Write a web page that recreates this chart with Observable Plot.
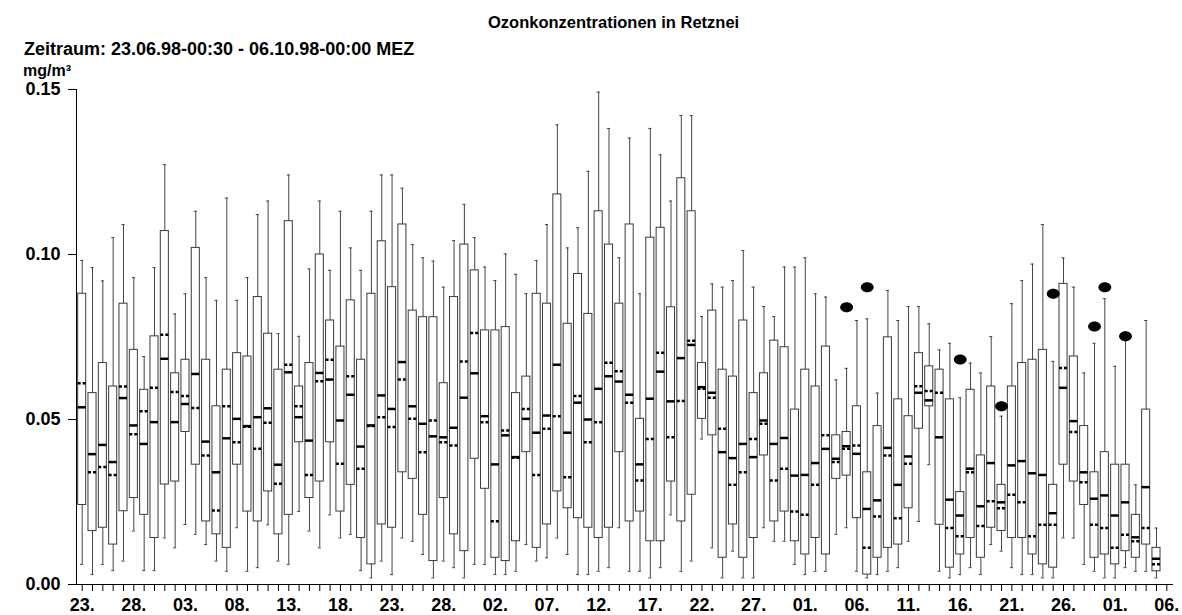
<!DOCTYPE html>
<html>
<head>
<meta charset="utf-8">
<script src="https://cdn.jsdelivr.net/npm/d3@7"></script>
<script src="https://cdn.jsdelivr.net/npm/@observablehq/plot@0.6"></script>
<style>
  html, body { margin: 0; padding: 0; background: #fff; overflow: hidden; }
  #wrap { position: relative; width: 1182px; height: 615px; font-family: "Liberation Sans", Arial, sans-serif; font-weight: bold; color: #000; }
  #wrap svg { position: absolute; left: 0; top: 0; }
  .lbl { position: absolute; line-height: 1; white-space: nowrap; }
</style>
</head>
<body>
<div id="wrap">
  <div id="chart"></div>
  <div class="lbl" style="left:488px; top:14px; font-size:16.5px;">Ozonkonzentrationen in Retznei</div>
  <div class="lbl" style="left:24px; top:40px; font-size:18px;">Zeitraum: 23.06.98-00:30 - 06.10.98-00:00 MEZ</div>
  <div class="lbl" style="left:23px; top:63px; font-size:16px;">mg/m³</div>
</div>
<script>
// Daily statistics, 23.06.98 (day 0) … 05.10.98 (day 104); axis runs to 06.10.98 (day 105)
const whiskerHigh = [0.0982,0.0960,0.0920,0.1051,0.1091,0.0930,0.0691,0.0960,0.1272,0.0820,0.0881,0.1131,0.0930,0.0861,0.1171,0.0861,0.0930,0.1121,0.1162,0.0760,0.1241,0.0752,0.0956,0.1162,0.0952,0.1131,0.1020,0.0952,0.1131,0.1241,0.1241,0.1201,0.1030,0.0990,0.0980,0.0901,0.1042,0.1152,0.1051,0.0962,0.0921,0.1002,0.0940,0.0881,0.0982,0.1091,0.1393,0.1020,0.1081,0.1252,0.1492,0.1382,0.0990,0.1353,0.0881,0.1382,0.1302,0.1162,0.1421,0.1421,0.0812,0.0911,0.0901,0.0921,0.1012,0.0901,0.0842,0.0812,0.0962,0.0962,0.0990,0.0881,0.0871,0.0620,0.0655,0.0800,0.0805,0.0580,0.0891,0.0800,0.0842,0.0842,0.0790,0.0711,0.0731,0.0566,0.0671,0.0641,0.0751,0.0510,0.0851,0.0921,0.0971,0.1091,0.0676,0.0990,0.0901,0.0641,0.0731,0.0866,0.0661,0.0765,0.0302,0.0800,0.0171];
const upperQuartile = [0.0881,0.0580,0.0671,0.0600,0.0851,0.0711,0.0590,0.0752,0.1071,0.0640,0.0681,0.1020,0.0681,0.0540,0.0651,0.0701,0.0691,0.0871,0.0760,0.0651,0.1101,0.0600,0.0671,0.1000,0.0800,0.0721,0.0861,0.0681,0.0881,0.1040,0.0901,0.1091,0.0830,0.0810,0.0810,0.0610,0.0871,0.1030,0.0952,0.0770,0.0770,0.0780,0.0580,0.0630,0.0881,0.0851,0.1182,0.0790,0.0941,0.0820,0.1131,0.1030,0.0851,0.1091,0.0502,0.1051,0.1081,0.0840,0.1231,0.1131,0.0671,0.0830,0.0651,0.0630,0.0800,0.0580,0.0640,0.0739,0.0719,0.0530,0.0651,0.0600,0.0721,0.0452,0.0462,0.0540,0.0340,0.0480,0.0749,0.0561,0.0510,0.0701,0.0661,0.0651,0.0561,0.0280,0.0590,0.0391,0.0600,0.0302,0.0600,0.0671,0.0681,0.0711,0.0302,0.0911,0.0691,0.0480,0.0340,0.0401,0.0363,0.0363,0.0211,0.0530,0.0111];
const median = [0.0537,0.0395,0.0423,0.0371,0.0565,0.0482,0.0426,0.0492,0.0684,0.0492,0.0547,0.0638,0.0433,0.0340,0.0443,0.0502,0.0480,0.0507,0.0534,0.0363,0.0643,0.0507,0.0436,0.0641,0.0621,0.0497,0.0575,0.0418,0.0482,0.0573,0.0532,0.0674,0.0540,0.0487,0.0449,0.0446,0.0475,0.0566,0.0640,0.0510,0.0364,0.0452,0.0386,0.0502,0.0460,0.0512,0.0666,0.0460,0.0551,0.0500,0.0593,0.0631,0.0615,0.0575,0.0364,0.0563,0.0645,0.0555,0.0686,0.0726,0.0598,0.0581,0.0401,0.0383,0.0426,0.0386,0.0497,0.0426,0.0444,0.0330,0.0332,0.0368,0.0411,0.0381,0.0419,0.0396,0.0229,0.0255,0.0414,0.0302,0.0388,0.0581,0.0558,0.0446,0.0257,0.0209,0.0351,0.0237,0.0368,0.0249,0.0361,0.0374,0.0337,0.0332,0.0216,0.0596,0.0495,0.0340,0.0260,0.0270,0.0209,0.0249,0.0143,0.0295,0.0078];
const mean = [0.0610,0.0340,0.0356,0.0332,0.0600,0.0455,0.0525,0.0596,0.0757,0.0583,0.0571,0.0535,0.0391,0.0224,0.0540,0.0431,0.0478,0.0411,0.0490,0.0305,0.0666,0.0540,0.0332,0.0616,0.0681,0.0366,0.0631,0.0351,0.0480,0.0507,0.0477,0.0621,0.0502,0.0401,0.0497,0.0431,0.0421,0.0676,0.0762,0.0492,0.0192,0.0467,0.0384,0.0532,0.0332,0.0472,0.0510,0.0325,0.0571,0.0431,0.0492,0.0672,0.0646,0.0551,0.0315,0.0441,0.0702,0.0446,0.0556,0.0739,0.0593,0.0566,0.0472,0.0302,0.0340,0.0441,0.0487,0.0315,0.0351,0.0221,0.0211,0.0302,0.0452,0.0371,0.0411,0.0421,0.0111,0.0206,0.0391,0.0201,0.0366,0.0601,0.0586,0.0581,0.0171,0.0146,0.0340,0.0177,0.0252,0.0231,0.0272,0.0249,0.0146,0.0181,0.0181,0.0656,0.0462,0.0310,0.0181,0.0171,0.0111,0.0151,0.0131,0.0171,0.0061];
const lowerQuartile = [0.0241,0.0162,0.0172,0.0121,0.0222,0.0262,0.0211,0.0141,0.0303,0.0312,0.0462,0.0363,0.0191,0.0152,0.0111,0.0363,0.0221,0.0191,0.0282,0.0152,0.0211,0.0431,0.0262,0.0312,0.0431,0.0221,0.0302,0.0141,0.0061,0.0182,0.0172,0.0340,0.0320,0.0211,0.0071,0.0262,0.0152,0.0101,0.0381,0.0290,0.0081,0.0071,0.0131,0.0401,0.0111,0.0182,0.0282,0.0231,0.0201,0.0172,0.0141,0.0172,0.0401,0.0191,0.0221,0.0131,0.0131,0.0312,0.0191,0.0272,0.0502,0.0452,0.0081,0.0182,0.0081,0.0141,0.0391,0.0191,0.0221,0.0131,0.0091,0.0141,0.0091,0.0320,0.0330,0.0201,0.0030,0.0081,0.0111,0.0121,0.0231,0.0472,0.0540,0.0181,0.0051,0.0091,0.0141,0.0081,0.0172,0.0162,0.0141,0.0141,0.0091,0.0061,0.0051,0.0363,0.0312,0.0241,0.0081,0.0091,0.0061,0.0101,0.0081,0.0121,0.0040];
const whiskerLow = [0.0061,0.0030,0.0061,0.0042,0.0071,0.0162,0.0042,0.0042,0.0141,0.0111,0.0182,0.0152,0.0121,0.0071,0.0040,0.0172,0.0040,0.0051,0.0181,0.0071,0.0061,0.0221,0.0162,0.0111,0.0211,0.0141,0.0152,0.0042,0.0020,0.0071,0.0030,0.0141,0.0131,0.0091,0.0020,0.0071,0.0051,0.0020,0.0061,0.0061,0.0030,0.0030,0.0040,0.0121,0.0071,0.0081,0.0141,0.0091,0.0030,0.0030,0.0040,0.0051,0.0172,0.0040,0.0040,0.0020,0.0051,0.0211,0.0040,0.0071,0.0441,0.0111,0.0020,0.0101,0.0020,0.0020,0.0172,0.0131,0.0131,0.0061,0.0030,0.0040,0.0040,0.0152,0.0172,0.0040,0.0020,0.0030,0.0040,0.0051,0.0131,0.0191,0.0363,0.0040,0.0020,0.0030,0.0051,0.0030,0.0121,0.0101,0.0051,0.0030,0.0030,0.0020,0.0020,0.0141,0.0141,0.0061,0.0040,0.0020,0.0020,0.0051,0.0040,0.0040,0.0020];
const outlierDay = [74, 76, 85, 89, 94, 98, 99, 101];
const outlierValue = [0.0840, 0.0901, 0.0682, 0.0540, 0.0881, 0.0782, 0.0901, 0.0752];
const tickDays = [0,5,10,15,20,25,30,35,40,45,50,55,60,65,70,75,80,85,90,95,100,105];
const tickLabels = ["23.","28.","03.","08.","13.","18.","23.","28.","02.","07.","12.","17.","22.","27.","01.","06.","11.","16.","21.","26.","01.","06."];
const yTicks = [0, 0.05, 0.10, 0.15];

const days = d3.range(106);
const labelOf = new Map(tickDays.map((d, i) => [d, tickLabels[i]]));
const stats = median.map((m, i) => ({
  day: i, hi: whiskerHigh[i], q3: upperQuartile[i], med: m,
  mean: mean[i], q1: lowerQuartile[i], lo: whiskerLow[i]
}));
const outliers = outlierDay.map((d, i) => ({day: d, value: outlierValue[i]}));

const ellipse = {
  draw(ctx) {
    const rx = 6.4, ry = 5, k = 0.5523;
    ctx.moveTo(rx, 0);
    ctx.bezierCurveTo(rx, ry * k, rx * k, ry, 0, ry);
    ctx.bezierCurveTo(-rx * k, ry, -rx, ry * k, -rx, 0);
    ctx.bezierCurveTo(-rx, -ry * k, -rx * k, -ry, 0, -ry);
    ctx.bezierCurveTo(rx * k, -ry, rx, -ry * k, rx, 0);
    ctx.closePath();
  }
};

const chart = Plot.plot({
  width: 1182,
  height: 615,
  marginTop: 89,
  marginBottom: 31,
  marginLeft: 76,
  marginRight: 10,
  style: {
    fontFamily: "'Liberation Sans', Arial, sans-serif",
    fontWeight: "bold",
    fontSize: "18px",
    color: "#000",
    background: "transparent",
    overflow: "visible"
  },
  x: {
    type: "band",
    domain: days,
    paddingInner: 0.22,
    paddingOuter: 0.16,
    align: 0.5,
    tickSize: 7,
    tickPadding: 7,
    tickFormat: d => labelOf.get(d) ?? "",
    line: true,
    label: null
  },
  y: {
    domain: [0, 0.15],
    ticks: yTicks,
    tickFormat: d3.format(".2f"),
    tickSize: 8,
    tickPadding: 8,
    line: true,
    label: null
  },
  marks: [
    Plot.ruleX(stats, {x: "day", y1: "lo", y2: "hi", stroke: "#444", strokeWidth: 1}),
    Plot.tickY(stats, {x: "day", y: "hi", stroke: "#444", strokeWidth: 1, insetLeft: 2.5, insetRight: 2.5}),
    Plot.tickY(stats, {x: "day", y: "lo", stroke: "#444", strokeWidth: 1, insetLeft: 2.5, insetRight: 2.5}),
    Plot.barY(stats, {x: "day", y1: "q1", y2: "q3", fill: "white", stroke: "#3a3a3a", strokeWidth: 1}),
    Plot.tickY(stats, {x: "day", y: "med", stroke: "#000", strokeWidth: 2.5}),
    Plot.tickY(stats, {x: "day", y: "mean", stroke: "#000", strokeWidth: 2.5, strokeDasharray: "3,2"}),
    Plot.dot(outliers, {x: "day", y: "value", symbol: ellipse, fill: "#000", stroke: "none"})
  ]
});
document.getElementById("chart").appendChild(chart);
</script>
</body>
</html>
